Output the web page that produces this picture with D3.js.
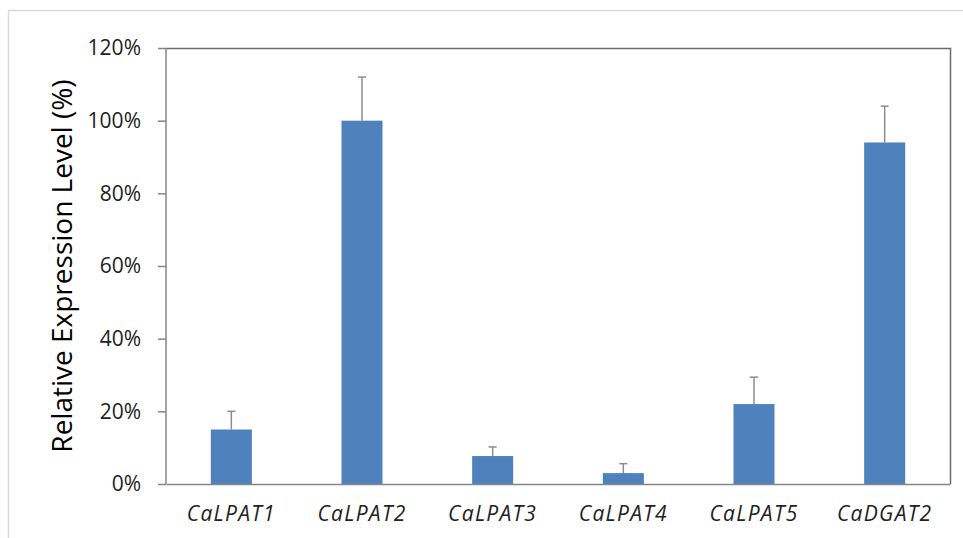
<!DOCTYPE html>
<html>
<head>
<meta charset="utf-8">
<script src="https://cdn.jsdelivr.net/npm/d3@7"></script>
<style>
  body { margin: 0; background: #fff; }
  svg { display: block; }
</style>
</head>
<body>
<div id="viz"></div>
<script>
const genes = ["CaLPAT1", "CaLPAT2", "CaLPAT3", "CaLPAT4", "CaLPAT5", "CaDGAT2"];
const expression = [15, 100, 7.7, 3, 22, 94];
const errors = [5, 12, 2.5, 2.6, 7.4, 10];
const yTicks = [0, 20, 40, 60, 80, 100, 120];

const W = 963, H = 538;
const plot = {left: 166, right: 950, top: 48, bottom: 484};
const font = "'Open Sans', 'Noto Sans', sans-serif";

const svg = d3.select("#viz")
  .append("svg")
    .attr("width", W)
    .attr("height", H);

// outer chart frame
svg.append("rect")
  .attr("x", 8.5)
  .attr("y", 10.5)
  .attr("width", 980)
  .attr("height", 560)
  .style("fill", "#fff")
  .style("stroke", "#d9d9d9")
  .style("stroke-width", 1.5);

const x = d3.scaleBand()
  .domain(genes)
  .range([plot.left, plot.right])
  .paddingInner(0.686)
  .paddingOuter(0.343);

const y = d3.scaleLinear()
  .domain([0, 120])
  .range([plot.bottom, plot.top]);

// plot area border (top + right)
svg.append("path")
  .attr("d", `M${plot.left},${plot.top + 0.5}H${plot.right + 0.5}V${plot.bottom}`)
  .style("fill", "none")
  .style("stroke", "#6b6b6b")
  .style("stroke-width", 1.5);

// bars
svg.selectAll("rect.bar")
  .data(genes)
  .join("rect")
    .attr("class", "bar")
    .attr("x", d => x(d))
    .attr("y", (d, i) => y(expression[i]))
    .attr("width", x.bandwidth())
    .attr("height", (d, i) => y(0) - y(expression[i]))
    .style("fill", "#4f81bd");

// error bars (upper only)
const err = svg.append("g")
  .style("stroke", "#8c8c8c")
  .style("stroke-width", 1.5);

genes.forEach((g, i) => {
  const cx = x(g) + x.bandwidth() / 2;
  err.append("line")
    .attr("x1", cx).attr("x2", cx)
    .attr("y1", y(expression[i]))
    .attr("y2", y(expression[i] + errors[i]));
  err.append("line")
    .attr("x1", cx - 4).attr("x2", cx + 4)
    .attr("y1", y(expression[i] + errors[i]))
    .attr("y2", y(expression[i] + errors[i]));
});

// y axis
const yAxis = svg.append("g")
  .attr("transform", `translate(${plot.left},0)`)
  .call(d3.axisLeft(y)
    .tickValues(yTicks)
    .tickSize(8)
    .tickPadding(17)
    .tickFormat(d => d + "%"));
yAxis.select(".domain").remove();
yAxis.append("line")
  .attr("x1", 0).attr("x2", 0)
  .attr("y1", plot.top).attr("y2", plot.bottom)
  .style("stroke", "#868686")
  .style("stroke-width", 1.5);
yAxis.selectAll(".tick line")
  .style("stroke", "#868686")
  .style("stroke-width", 1.5);
yAxis.selectAll("text")
  .style("font-family", font)
  .style("font-size", "21px")
  .style("fill", "#222");

// x axis
const xAxis = svg.append("g")
  .attr("transform", `translate(0,${plot.bottom})`)
  .call(d3.axisBottom(x).tickSize(0).tickPadding(22));
xAxis.select(".domain")
  .style("stroke", "#868686")
  .style("stroke-width", 1.5);
xAxis.selectAll("text")
  .style("font-family", font)
  .style("font-size", "21px")
  .style("font-style", "italic")
  .style("letter-spacing", "1.3px")
  .style("fill", "#222");

// y axis title
svg.append("text")
  .attr("transform", `translate(72,${(plot.top + plot.bottom) / 2}) rotate(-90)`)
  .attr("text-anchor", "middle")
  .style("font-family", font)
  .style("font-size", "28px")
  .style("fill", "#000")
  .text("Relative Expression Level (%)");
</script>
</body>
</html>
